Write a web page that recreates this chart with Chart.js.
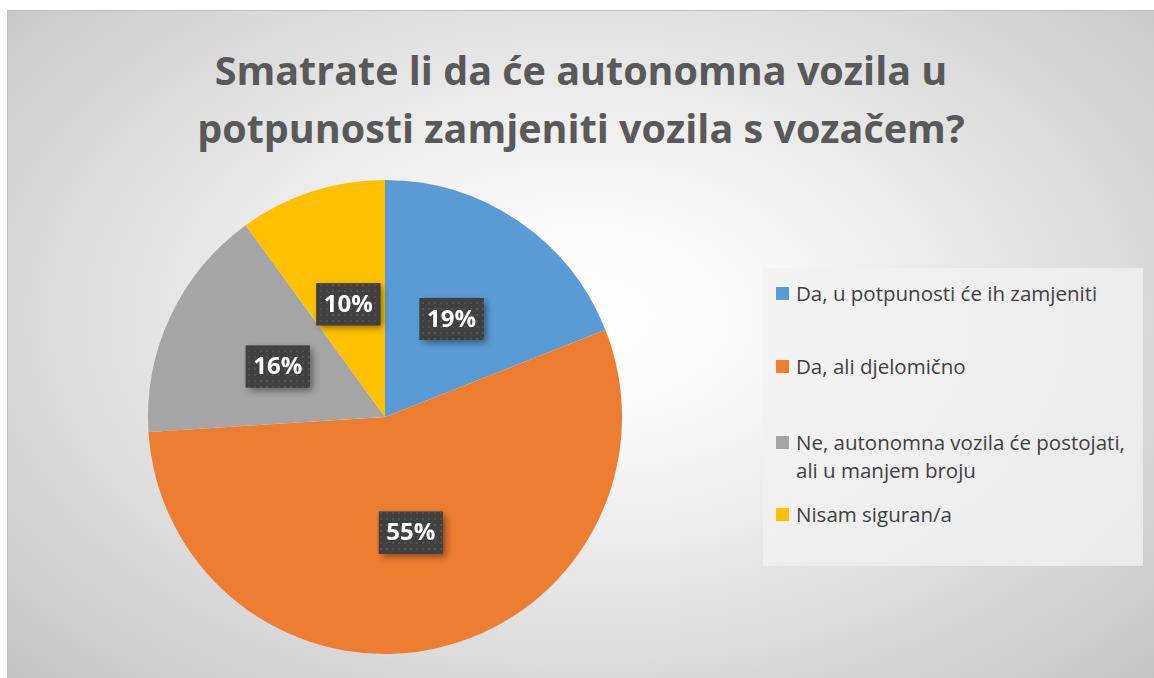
<!DOCTYPE html>
<html>
<head>
<meta charset="utf-8">
<script src="https://cdn.jsdelivr.net/npm/chart.js@4"></script>
<style>
  html, body { margin: 0; padding: 0; width: 1154px; height: 678px; overflow: hidden; background: #fff; }
  #frame {
    position: absolute; left: 7px; top: 10px; width: 1160px; height: 680px;
    border-left: 1px solid #bfbfbf; border-top: 1px solid #bfbfbf;
    background: radial-gradient(ellipse farthest-corner at 50% 45%, #ffffff 0%, #f7f7f7 25%, #dcdcdc 65%, #c2c2c2 100%);
  }
  #title {
    position: absolute; left: 0; width: 1162px; top: 41px; text-align: center;
    font-family: "Open Sans", sans-serif; font-weight: bold; font-size: 39.5px; line-height: 58px;
    color: #595959;
  }
  #legend {
    position: absolute; left: 763px; top: 268px; width: 380px; height: 298px;
    background: rgba(242, 242, 242, 0.75);
    font-family: "Open Sans", sans-serif; font-size: 20.5px; color: #404040;
  }
  .item { position: absolute; left: 13px; line-height: 28px; white-space: nowrap; }
  .sw { position: absolute; left: 0; top: 8px; width: 13px; height: 13px; }
  .txt { margin-left: 20px; }
  canvas { position: absolute; left: 0; top: 0; }
</style>
</head>
<body>
<div id="frame"></div>
<div id="title">Smatrate li da će autonomna vozila u<br>potpunosti zamjeniti vozila s vozačem?</div>
<div id="legend"></div>
<canvas id="pie" width="1154" height="678"></canvas>
<script>
const odgovori = ["Da, u potpunosti će ih zamjeniti", "Da, ali djelomično",
    "Ne, autonomna vozila će postojati, ali u manjem broju", "Nisam siguran/a"];
const postotci = [19, 55, 16, 10];
const boje = ["#5B9BD5", "#ED7D31", "#A5A5A5", "#FFC000"];

// legenda (HTML)
const legendTop = [11, 84, 160, 232];
const legend = document.getElementById('legend');
for (let i = 0; i < odgovori.length; i++) {
    let txt = odgovori[i];
    if (i === 2) txt = "Ne, autonomna vozila će postojati,<br>ali u manjem broju";
    legend.innerHTML += `<div class="item" style="top:${legendTop[i]}px"><span class="sw" style="background:${boje[i]}"></span><div class="txt">${txt}</div></div>`;
}

// tamne oznake s postotkom
const uzorak = document.createElement('canvas');
uzorak.width = 6; uzorak.height = 6;
const u = uzorak.getContext('2d');
u.fillStyle = '#404040';
u.fillRect(0, 0, 6, 6);
u.fillStyle = '#525252';
u.fillRect(2, 2, 2, 2);

const oznake = {
    id: 'oznake',
    afterDatasetsDraw(chart) {
        const ctx = chart.ctx;
        const meta = chart.getDatasetMeta(0);
        const pattern = ctx.createPattern(uzorak, 'repeat');
        ctx.save();
        ctx.font = 'bold 24px "Open Sans", sans-serif';
        meta.data.forEach((arc, i) => {
            const p = arc.tooltipPosition();
            const w = 64, h = 42;
            const x = p.x - w / 2, y = p.y - h / 2;
            ctx.save();
            ctx.shadowColor = 'rgba(0,0,0,0.45)';
            ctx.shadowBlur = 7;
            ctx.shadowOffsetX = 3;
            ctx.shadowOffsetY = 3;
            ctx.fillStyle = '#404040';
            ctx.fillRect(x, y, w, h);
            ctx.restore();
            ctx.fillStyle = pattern;
            ctx.fillRect(x, y, w, h);
            ctx.fillStyle = '#ffffff';
            ctx.textAlign = 'center';
            ctx.textBaseline = 'middle';
            ctx.fillText(postotci[i] + '%', p.x, p.y + 1);
        });
        ctx.restore();
    }
};

const cx = 385, cy = 417, r = 237;
new Chart(document.getElementById('pie'), {
    type: 'pie',
    data: {
        labels: odgovori,
        datasets: [{
            data: postotci,
            backgroundColor: boje,
            borderWidth: 0,
            hoverOffset: 0
        }]
    },
    options: {
        responsive: false,
        animation: false,
        events: [],
        radius: r,
        layout: {
            padding: { left: cx - r, right: 1154 - cx - r, top: cy - r, bottom: 678 - cy - r }
        },
        plugins: {
            legend: { display: false },
            tooltip: { enabled: false }
        }
    },
    plugins: [oznake]
});
</script>
</body>
</html>
